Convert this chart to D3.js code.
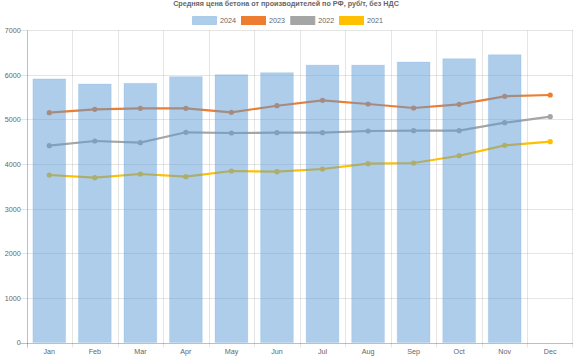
<!DOCTYPE html>
<html><head><meta charset="utf-8">
<script src="https://cdn.jsdelivr.net/npm/d3@7"></script>
<style>body{margin:0;background:#fff;} svg{display:block;font-family:"Liberation Sans",Arial,sans-serif;}</style>
</head><body><svg id="c" width="575" height="358"></svg>
<script>
const title = "Средняя цена бетона от производителей по РФ, руб/т, без НДС";
const months = ["Jan","Feb","Mar","Apr","May","Jun","Jul","Aug","Sep","Oct","Nov","Dec"];
const yTicks = [0,1000,2000,3000,4000,5000,6000,7000];
const s2024 = [5910,5796,5812,5960,6004,6050,6220,6220,6289,6363,6453,null];
const s2023 = [5152,5229,5251,5251,5161,5309,5430,5348,5258,5341,5520,5549];
const s2022 = [4413,4518,4480,4713,4697,4704,4704,4742,4749,4749,4928,5063];
const s2021 = [3756,3695,3778,3718,3845,3830,3890,4009,4025,4188,4421,4502];
const lineSeries = [
  {name:"2023", values:s2023, color:"#ED7D31"},
  {name:"2022", values:s2022, color:"#A5A5A5"},
  {name:"2021", values:s2021, color:"#FFC000"}
];
const legend = [
  {name:"2024", fill:"rgba(91,155,213,0.5)", stroke:"rgba(91,155,213,0.35)"},
  {name:"2023", fill:"#ED7D31", stroke:"#ED7D31"},
  {name:"2022", fill:"#A5A5A5", stroke:"#A5A5A5"},
  {name:"2021", fill:"#FFC000", stroke:"#FFC000"}
];

const svg = d3.select("#c");
const L = 26.5, R = 573, T = 30.3, B = 342.5;
const x = d3.scaleBand().domain(months).range([L,R]);
const y = d3.scaleLinear().domain([0,7000]).range([B,T]);

// title
svg.append("text").attr("x",286).attr("y",6).attr("text-anchor","middle")
  .attr("font-size",7.2).attr("font-weight","bold").attr("fill","#666").text(title);

// legend
const lg = svg.append("g");
const lx = [192,241,290.3,339];
legend.forEach((d,i)=>{
  lg.append("rect").attr("x",lx[i]+0.5).attr("y",16.5).attr("width",24).attr("height",8)
    .attr("fill",d.fill).attr("stroke",d.stroke).attr("stroke-width",1);
  lg.append("text").attr("x",lx[i]+28).attr("y",23.3).attr("font-size",7.2).attr("fill","#666").text(d.name);
});

// gridlines
const grid = svg.append("g");
yTicks.forEach(t=>{
  grid.append("line").attr("x1",L-6).attr("x2",R).attr("y1",Math.round(y(t))+0.5).attr("y2",Math.round(y(t))+0.5)
    .attr("stroke", t===0 ? "rgba(0,0,0,0.25)" : "rgba(0,0,0,0.1)");
});
months.forEach((m,i)=>{
  const xx = Math.round(x(m))+0.5;
  grid.append("line").attr("x1",xx).attr("x2",xx).attr("y1",T).attr("y2",B+5)
    .attr("stroke", i===0 ? "rgba(0,0,0,0.25)" : "rgba(0,0,0,0.1)");
});
grid.append("line").attr("x1",R-0.5).attr("x2",R-0.5).attr("y1",T).attr("y2",B+5).attr("stroke","rgba(0,0,0,0.1)");

// y axis labels
const yAxis = d3.axisLeft(y).tickValues(yTicks).tickSize(0).tickPadding(0).tickFormat(d3.format("d"));
const ya = svg.append("g").attr("transform",`translate(${L-5.8},0)`).call(yAxis);
ya.select(".domain").remove();
ya.selectAll("text").attr("font-size",7.2).attr("fill","#666").attr("font-family","Liberation Sans, Arial, sans-serif");

// x axis labels
const xAxis = d3.axisBottom(x).tickSize(0).tickPadding(0);
const xa = svg.append("g").attr("transform",`translate(0,${B+5})`).call(xAxis);
xa.select(".domain").remove();
xa.selectAll("text").attr("font-size",7.2).attr("fill","#666").attr("dy","0.95em").attr("font-family","Liberation Sans, Arial, sans-serif");

// lines
const cx = m => x(m)+x.bandwidth()/2;
const line = d3.line().defined(d=>d.v!=null).x(d=>cx(d.m)).y(d=>y(d.v));
lineSeries.forEach(s=>{
  const data = months.map((m,i)=>({m, v:s.values[i]}));
  svg.append("path").datum(data).attr("d",line).attr("fill","none")
    .attr("stroke",s.color).attr("stroke-width",2.2);
  svg.append("g").selectAll("circle").data(data.filter(d=>d.v!=null)).join("circle")
    .attr("cx",d=>cx(d.m)).attr("cy",d=>y(d.v)).attr("r",2.6).attr("fill",s.color);
});

// bars (on top)
const bw = x.bandwidth()*0.72;
svg.append("g").selectAll("rect").data(months.map((m,i)=>({m,v:s2024[i]})).filter(d=>d.v!=null)).join("rect")
  .attr("x",d=>cx(d.m)-bw/2).attr("width",bw)
  .attr("y",d=>y(d.v)).attr("height",d=>B-y(d.v))
  .attr("fill","rgba(91,155,213,0.5)").attr("stroke","rgba(91,155,213,0.15)").attr("stroke-width",1);
</script></body></html>
